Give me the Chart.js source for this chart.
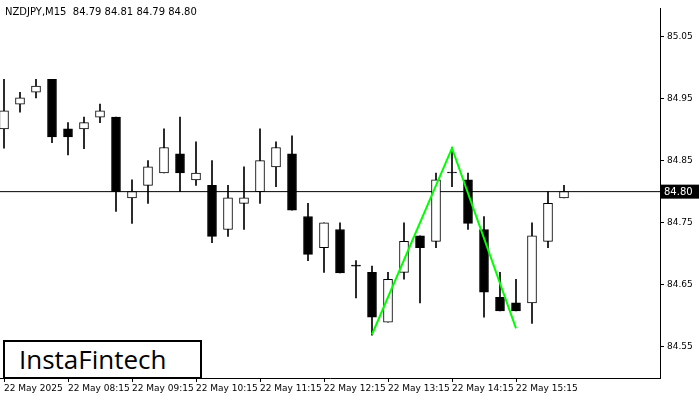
<!DOCTYPE html>
<html><head><meta charset="utf-8">
<script src="https://cdn.jsdelivr.net/npm/chart.js@4/dist/chart.umd.min.js"></script>
<style>
html,body{margin:0;padding:0;background:#fff;}
#wrap{position:relative;width:700px;height:400px;}
#title{position:absolute;left:5px;top:6px;font:10px "DejaVu Sans",sans-serif;color:#000;}
#logo{position:absolute;left:3px;top:340px;border:2px solid #000;background:#fff;font:26px "Open Sans",sans-serif;color:#000;line-height:35px;padding-left:14px;box-sizing:border-box;width:199px;height:39px;}
</style></head><body>
<div id="wrap"><canvas id="c" width="700" height="400"></canvas>
<div id="title">NZDJPY,M15&nbsp;&nbsp;84.79 84.81 84.79 84.80</div>
<div id="logo">InstaFintech</div></div>
<script>
const opens  = [84.901,84.941,84.960,84.981,84.901,84.901,84.920,84.920,84.790,84.810,84.830,84.861,84.819,84.810,84.739,84.781,84.800,84.840,84.861,84.760,84.710,84.739,84.680,84.670,84.590,84.670,84.729,84.720,84.830,84.819,84.739,84.630,84.621,84.621,84.720,84.790];
const highs  = [84.981,84.960,84.981,84.981,84.911,84.920,84.941,84.920,84.819,84.850,84.901,84.920,84.880,84.850,84.810,84.840,84.901,84.880,84.890,84.781,84.750,84.750,84.689,84.680,84.670,84.750,84.729,84.830,84.871,84.830,84.760,84.670,84.659,84.750,84.800,84.810];
const lows   = [84.870,84.928,84.951,84.879,84.859,84.869,84.911,84.768,84.749,84.781,84.830,84.800,84.810,84.718,84.728,84.739,84.781,84.808,84.770,84.689,84.670,84.669,84.629,84.569,84.590,84.659,84.621,84.710,84.808,84.739,84.598,84.608,84.608,84.588,84.710,84.790];
const closes = [84.930,84.951,84.970,84.888,84.888,84.911,84.930,84.800,84.800,84.840,84.871,84.830,84.830,84.728,84.790,84.790,84.850,84.871,84.770,84.699,84.750,84.669,84.680,84.598,84.659,84.720,84.710,84.819,84.830,84.749,84.638,84.608,84.608,84.729,84.781,84.800];
const timeLabels = ["22 May 2025","22 May 08:15","22 May 09:15","22 May 10:15","22 May 11:15","22 May 12:15","22 May 13:15","22 May 14:15","22 May 15:15"];
const priceTicks = [84.55,84.65,84.75,84.85,84.95,85.05];
const patternX = [23,28,32];
const patternY = [84.57,84.87,84.58];
const lastPrice = 84.80;

const wicks = highs.map((h,i)=>({x:i,y:[lows[i],h]}));
const bodies = opens.map((o,i)=>({x:i,y:[o,closes[i]]}));
const bodyColors = opens.map((o,i)=>closes[i]>o?'#ffffff':'#000000');

const tagPlugin = {id:'tag',afterDraw(ch){
  const y=ch.scales.y.getPixelForValue(lastPrice), ctx=ch.ctx, r=ch.chartArea.right;
  ctx.save();ctx.fillStyle='#000';ctx.fillRect(r+1,y-7,38,14);
  ctx.fillStyle='#fff';ctx.font='10px "DejaVu Sans"';ctx.textBaseline='middle';ctx.fillText(lastPrice.toFixed(2),r+4,y+0.5);ctx.restore();
}};

new Chart(document.getElementById('c'),{
  data:{datasets:[
    {type:'line',data:[{x:-0.25,y:lastPrice},{x:41,y:lastPrice}],borderColor:'#000',borderWidth:1,pointRadius:0,order:3},
    {type:'bar',data:wicks,backgroundColor:'#000',barThickness:1,grouped:false,order:2},
    {type:'bar',data:bodies,backgroundColor:bodyColors,borderColor:'#000',borderWidth:1,borderSkipped:false,barThickness:9,minBarLength:1,grouped:false,order:1},
    {type:'line',data:patternX.map((x,i)=>({x,y:patternY[i]})),borderColor:'#00ff00',borderWidth:2,pointRadius:0,order:0}
  ]},
  options:{responsive:false,animation:false,layout:{padding:0},
    plugins:{legend:{display:false},tooltip:{enabled:false}},
    scales:{
      x:{type:'linear',min:-0.25,max:41,offset:false,
        afterFit(s){s.height=22;},
        afterBuildTicks(s){s.ticks=timeLabels.map((_,i)=>({value:i*4}));},
        ticks:{autoSkip:false,maxRotation:0,align:'start',color:'#000',font:{size:9,family:'DejaVu Sans'},padding:1,callback:(v)=>timeLabels[v/4]},
        grid:{offset:false,drawOnChartArea:false,drawTicks:true,tickLength:4,color:'#000'},border:{color:'#000',width:1}},
      y:{position:'right',min:84.50,max:85.095,
        afterFit(s){s.width=40;},
        afterBuildTicks(s){s.ticks=priceTicks.map(v=>({value:v}));},
        ticks:{color:'#000',font:{size:9,family:'DejaVu Sans'},padding:3,callback:v=>v.toFixed(2)},
        grid:{drawOnChartArea:false,drawTicks:true,tickLength:4,color:'#000'},border:{color:'#000',width:1}}
    }},
  plugins:[tagPlugin]
});
</script></body></html>
